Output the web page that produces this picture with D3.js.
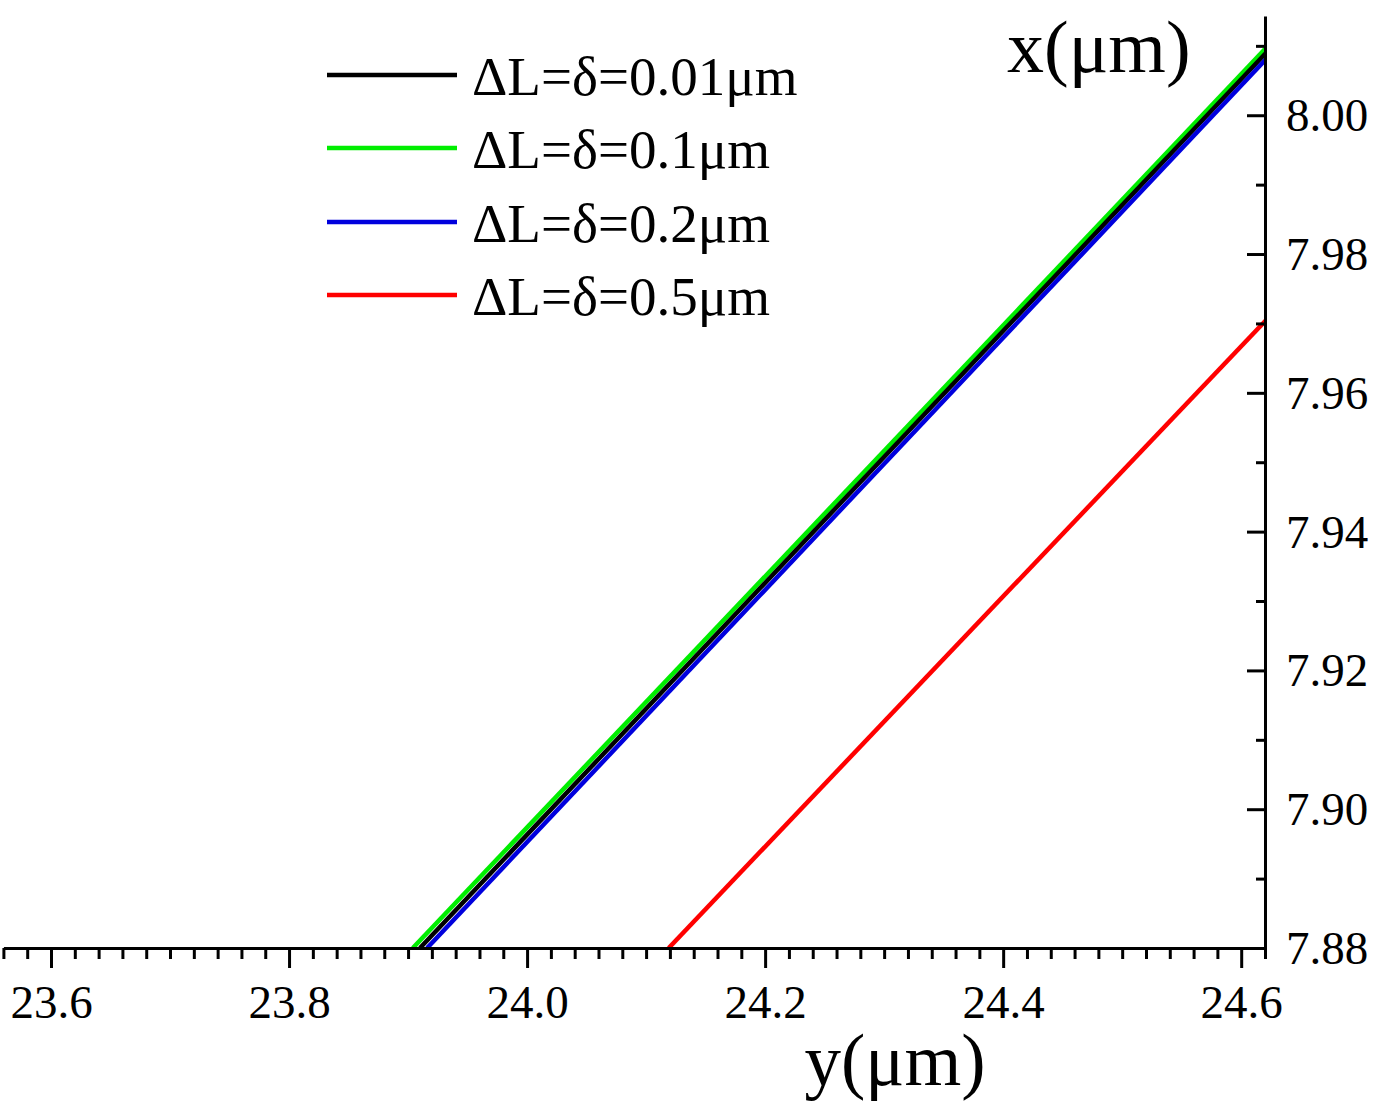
<!DOCTYPE html>
<html>
<head>
<meta charset="utf-8">
<script src="https://cdn.jsdelivr.net/npm/d3@7"></script>
<style>
  html, body { margin: 0; padding: 0; background: #fff; }
  svg { display: block; }
  text { font-family: "Liberation Serif", "Times New Roman", serif; fill: #000; }
</style>
</head>
<body>
<script>
// 数据：图例名称
const seriesNames = ['ΔL=δ=0.01μm', 'ΔL=δ=0.1μm', 'ΔL=δ=0.2μm', 'ΔL=δ=0.5μm'];
// 各曲线的 y(μm) 与 x(μm) 取值（从图中读取的端点）
const yBlack = [23.910, 24.621], xBlack = [7.88, 8.0090];
const yGreen = [23.904, 24.621], xGreen = [7.88, 8.0097];
const yBlue  = [23.916, 24.621], xBlue  = [7.88, 8.0081];
const yRed   = [24.119, 24.621], xRed   = [7.88, 7.9705];
// 刻度
const xTicks = [23.6, 23.8, 24.0, 24.2, 24.4, 24.6];
const yTicks = [7.88, 7.90, 7.92, 7.94, 7.96, 7.98, 8.00];

const colors = ['#000000', '#00ee00', '#0000dd', '#ff0000'];
const series = [
    {name: seriesNames[0], ys: yBlack, xs: xBlack, color: colors[0]},
    {name: seriesNames[1], ys: yGreen, xs: xGreen, color: colors[1]},
    {name: seriesNames[2], ys: yBlue, xs: xBlue, color: colors[2]},
    {name: seriesNames[3], ys: yRed, xs: xRed, color: colors[3]}
];
// 绘制顺序：绿、黑、蓝、红
const drawOrder = [1, 0, 2, 3];

const width = 1380, height = 1107;
const plotLeft = 3.4, plotRight = 1265, plotTop = 16, plotBottom = 948;

const svg = d3.select('body').append('svg')
    .attr('width', width)
    .attr('height', height);
svg.append('rect').attr('width', width).attr('height', height).attr('fill', '#fff');

const xScale = d3.scaleLinear().domain([23.56, 24.62]).range([plotLeft, plotRight]);
const yScale = d3.scaleLinear().domain([7.88, 8.0143]).range([plotBottom, plotTop]);

svg.append('defs').append('clipPath').attr('id', 'plot')
    .append('rect')
    .attr('x', plotLeft).attr('y', plotTop)
    .attr('width', plotRight - plotLeft).attr('height', plotBottom - plotTop);

// 曲线
const line = d3.line().x(d => xScale(d[0])).y(d => yScale(d[1]));
svg.append('g').attr('clip-path', 'url(#plot)')
    .selectAll('path')
    .data(drawOrder.map(i => series[i]))
    .enter()
    .append('path')
    .attr('d', d => line(d.ys.map((v, i) => [v, d.xs[i]])))
    .attr('fill', 'none')
    .attr('stroke', d => d.color)
    .attr('stroke-width', 4.5);

// 底部坐标轴：次刻度
const xMinor = d3.range(0, 54).map(i => +(23.56 + i * 0.02).toFixed(2))
    .filter(v => !xTicks.some(t => Math.abs(t - v) < 1e-6));
svg.append('g')
    .attr('transform', `translate(0,${plotBottom})`)
    .call(d3.axisBottom(xScale).tickValues(xMinor).tickSize(11).tickSizeOuter(0).tickFormat(''))
    .call(g => g.select('.domain').remove());
// 底部坐标轴：主刻度
const gx = svg.append('g')
    .attr('transform', `translate(0,${plotBottom})`)
    .call(d3.axisBottom(xScale).tickValues(xTicks).tickSize(20).tickSizeOuter(0)
        .tickPadding(17).tickFormat(d3.format('.1f')));
gx.selectAll('text').attr('font-size', 47).attr('fill', '#000');

// 右侧坐标轴：次刻度（朝内）
const yMinor = d3.range(0, 14).map(i => +(7.89 + i * 0.01).toFixed(2))
    .filter(v => !yTicks.some(t => Math.abs(t - v) < 1e-6));
svg.append('g')
    .attr('transform', `translate(${plotRight},0)`)
    .call(d3.axisRight(yScale).tickValues(yMinor).tickSize(-9).tickSizeOuter(0).tickFormat(''))
    .call(g => g.select('.domain').remove());
// 右侧坐标轴：主刻度
const gy = svg.append('g')
    .attr('transform', `translate(${plotRight},0)`)
    .call(d3.axisRight(yScale).tickValues(yTicks).tickSize(-18).tickSizeOuter(0)
        .tickPadding(21).tickFormat(d3.format('.2f')));
gy.selectAll('text').attr('font-size', 47).attr('fill', '#000').attr('dy', '0.33em');

svg.selectAll('.domain, .tick line')
    .attr('stroke', '#000')
    .attr('stroke-width', 3);

// 坐标轴标题
svg.append('text')
    .attr('x', 895).attr('y', 1085)
    .attr('text-anchor', 'middle')
    .attr('font-size', 73)
    .text('y(μm)');
svg.append('text')
    .attr('x', 1007).attr('y', 72)
    .attr('font-size', 74)
    .text('x(μm)');

// 图例
const legend = svg.append('g');
const legendY = [75, 148, 222, 295];
series.forEach((s, i) => {
    legend.append('line')
        .attr('x1', 327).attr('x2', 457)
        .attr('y1', legendY[i]).attr('y2', legendY[i])
        .attr('stroke', s.color)
        .attr('stroke-width', 4.5);
    legend.append('text')
        .attr('x', 472).attr('y', legendY[i] + 20)
        .attr('font-size', 55)
        .text(s.name);
});
</script>
</body>
</html>
